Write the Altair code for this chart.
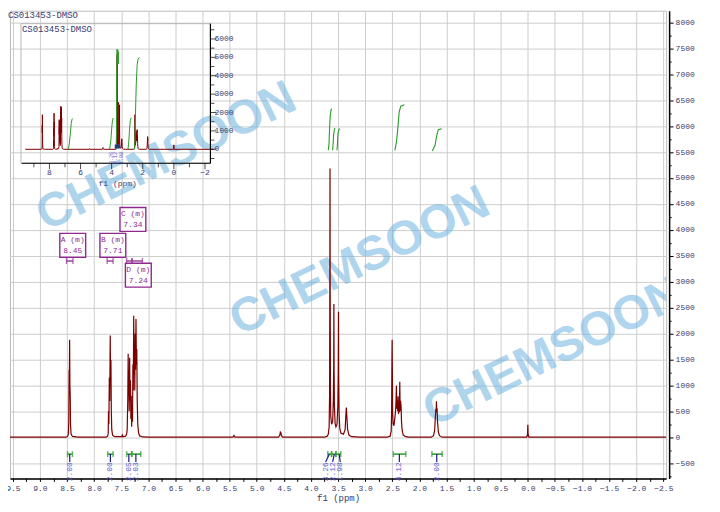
import altair as alt
import pandas as pd

# ---------------- spectrum (ppm, intensity) ----------------
spec_ppm = [9.552, 8.52, 8.49, 8.475, 8.468, 8.462, 8.458, 8.452, 8.447, 8.441, 8.436, 8.425, 8.40, 8.30,
            7.78, 7.75, 7.74, 7.735, 7.728, 7.72, 7.712, 7.703, 7.697, 7.69, 7.683, 7.675, 7.66, 7.62,
            7.49, 7.48, 7.47, 7.42, 7.40, 7.39, 7.38, 7.372, 7.366, 7.36, 7.353, 7.345, 7.338, 7.33,
            7.322, 7.315, 7.308, 7.30, 7.292, 7.285, 7.278, 7.27, 7.263, 7.256, 7.25, 7.243, 7.236,
            7.228, 7.22, 7.213, 7.205, 7.195, 7.18, 7.16, 7.10, 7.00,
            5.44, 5.42, 5.40, 4.60, 4.575, 4.565, 4.555, 4.545, 4.52,
            3.75, 3.70, 3.68, 3.665, 3.657, 3.652, 3.649, 3.646, 3.641, 3.635, 3.62, 3.60, 3.588,
            3.581, 3.578, 3.574, 3.568, 3.555, 3.54, 3.52, 3.505, 3.497, 3.493, 3.489, 3.482, 3.47,
            3.45, 3.40, 3.37, 3.358, 3.348, 3.338, 3.325, 3.30, 3.25, 3.10,
            2.60, 2.54, 2.52, 2.512, 2.507, 2.503, 2.499, 2.494, 2.485, 2.47, 2.455, 2.44, 2.432,
            2.424, 2.416, 2.408, 2.40, 2.393, 2.385, 2.377, 2.37, 2.362, 2.355, 2.348, 2.338, 2.33,
            2.32, 2.30, 2.25, 2.20,
            1.78, 1.74, 1.72, 1.705, 1.697, 1.691, 1.686, 1.68, 1.674, 1.666, 1.65, 1.63, 1.58,
            0.02, 0.005, 0.0, -0.005, -0.02, -2.551]
spec_int = [0, 0, 15, 60, 300, 1300, 900, 1880, 1000, 800, 250, 60, 15, 0,
            0, 20, 80, 500, 250, 1150, 700, 1960, 1100, 1490, 500, 150, 40, 10,
            10, 40, 10, 20, 60, 150, 700, 1610, 800, 1200, 500, 1530, 700, 1100,
            350, 800, 200, 600, 300, 1400, 900, 2340, 1200, 1800, 900, 2000, 1300,
            2280, 1400, 1700, 700, 250, 80, 25, 5, 0,
            0, 35, 0, 0, 40, 100, 90, 30, 0,
            0, 20, 60, 200, 800, 3000, 5180, 3000, 900, 400, 250, 300, 700,
            1400, 2570, 1300, 600, 260, 200, 250, 600, 1300, 2420, 1200, 500, 180,
            80, 60, 150, 400, 570, 400, 150, 40, 10, 0,
            0, 20, 120, 500, 1460, 1880, 1300, 500, 260, 220, 350, 500, 700,
            990, 550, 720, 500, 790, 450, 650, 480, 1070, 500, 700, 600, 300,
            150, 40, 10, 0,
            0, 30, 120, 400, 550, 480, 692, 520, 560, 300, 100, 30, 0,
            0, 60, 240, 60, 0, 0]

# ---------------- integral curves in the main plot ----------------
main_int_curve = [1] * 6 + [2] * 5 + [3] * 5 + [4] * 6 + [5] * 5
main_int_ppm = [3.681, 3.668, 3.657, 3.645, 3.632, 3.620,
                3.602, 3.592, 3.584, 3.571, 3.558,
                3.521, 3.512, 3.503, 3.484, 3.466,
                2.453, 2.424, 2.393, 2.374, 2.343, 2.277,
                1.761, 1.712, 1.680, 1.651, 1.588]
main_int_val = [5533, 5650, 5950, 6200, 6301, 6334,
                5533, 5650, 5821, 5917, 5962,
                5533, 5650, 5853, 5937, 5950,
                5533, 5692, 6013, 6269, 6385, 6411,
                5520, 5629, 5821, 5930, 5950]

# ---------------- integration bars (bottom) ----------------
integ_from = [8.49, 7.75, 7.40, 7.30, 3.69, 3.62, 3.54, 2.48, 1.77]
integ_to = [8.40, 7.65, 7.31, 7.14, 3.62, 3.54, 3.45, 2.25, 1.58]
integ_center = [8.45, 7.70, 7.36, 7.23, 3.66, 3.57, 3.48, 2.37, 1.68]
integ_labx = [8.45, 7.70, 7.36, 7.23, 3.73, 3.60, 3.46, 2.37, 1.68]
integ_text = ["2.00", "2.00", "2.05", "2.03", "3.26", "2.12", "1.98", "4.12", "2.00"]

# ---------------- multiplet labels ----------------
mult_names = ["A", "B", "C", "D"]
mult_shift = [8.45, 7.71, 7.34, 7.24]
mult_level = [3700, 3700, 4200, 3125]
mult_from = [8.51, 7.76, 7.40, 7.30]
mult_to = [8.39, 7.65, 7.30, 7.11]

# ---------------- inset ----------------
inset_int_curve = [1] * 6 + [2] * 5 + [3] * 8 + [4] * 5 + [5] * 6
inset_int_ppm = [6.79, 6.72, 6.65, 6.60, 6.55, 6.50,
                 4.13, 4.05, 4.00, 3.95, 3.90,
                 3.72, 3.69, 3.67, 3.65, 3.63, 3.60, 3.57, 3.55,
                 2.95, 2.90, 2.85, 2.80, 2.75,
                 2.52, 2.48, 2.42, 2.36, 2.30, 2.22]
inset_int_val = [0, 300, 900, 1400, 1620, 1680,
                 0, 500, 1100, 1550, 1700,
                 0, 800, 4600, 5450, 4700, 5400, 4650, 5300,
                 0, 400, 1100, 1550, 1720,
                 0, 1500, 3500, 4600, 4900, 5000]
inset_xticks = [8, 6, 4, 2, 0, -2]
inset_xminor = [9, 7, 5, 3, 1, -1]
inset_yticks = [0, 1000, 2000, 3000, 4000, 5000, 6000]
inset_yminor = [-500, 500, 1500, 2500, 3500, 4500, 5500, 6500]
inset_lab_ppm = [4.05, 3.80, 3.40]
inset_lab_text = ["3.26", "2.12", "1.98"]

title_text = "CS013453-DMSO"
x_major = [9.5, 9.0, 8.5, 8.0, 7.5, 7.0, 6.5, 6.0, 5.5, 5.0, 4.5, 4.0, 3.5, 3.0, 2.5, 2.0,
           1.5, 1.0, 0.5, 0.0, -0.5, -1.0, -1.5, -2.0, -2.5]
y_major = [-500, 0, 500, 1000, 1500, 2000, 2500, 3000, 3500, 4000, 4500, 5000, 5500, 6000,
           6500, 7000, 7500, 8000]

# ---------------- styles ----------------
FONT = "Liberation Mono"
AX_COL = "#3a3a6e"
RED = "#7b0000"
GREEN = "#2a9a2a"
BLUE = "#1a1a8a"
LBLUE = "#5a5ad0"
PURPLE = "#8e2a8e"
GRID = "#cdcdcd"

W, H = 658, 469
xs = alt.Scale(domain=[9.552, -2.551], nice=False, zero=False)
ys = alt.Scale(domain=[-794, 8225], nice=False, zero=False)
ixs = alt.Scale(domain=[9.83, -2.35], range=[11, 201], nice=False, zero=False)
iys = alt.Scale(domain=[-760, 6830], range=[153, 13], nice=False, zero=False)

x_vals = sorted(set(x_major + [round(v - 0.25, 2) for v in x_major[:-1]]), reverse=True)
y_vals = sorted(set(y_major + [v + 250 for v in y_major[:-1]] + [-750]))

maj_x = "abs(datum.value*2 - round(datum.value*2)) < 0.001"
maj_y = "datum.value % 500 === 0"

x_axis = alt.Axis(values=x_vals, title="f1 (ppm)",
                  labelExpr=f"({maj_x}) ? format(datum.value, '.1f') : ''",
                  grid=True, gridColor=GRID,
                  gridOpacity={"condition": {"test": maj_x, "value": 1}, "value": 0},
                  tickSize=3, tickColor="black", domainColor="black", domainWidth=1.5,
                  labelFont=FONT, labelFontSize=8, labelColor=AX_COL, labelFlush=False,
                  labelOverlap=False, labelPadding=3, titleFont=FONT, titleFontSize=9,
                  titleFontWeight="normal", titleColor=AX_COL, titlePadding=1)
y_axis = alt.Axis(values=y_vals, title=None, orient="right", offset=3,
                  labelExpr=f"({maj_y}) ? format(datum.value, 'd') : ''",
                  grid=True, gridColor=GRID,
                  gridOpacity={"condition": {"test": maj_y, "value": 1}, "value": 0},
                  tickSize={"condition": {"test": maj_y, "value": 4}, "value": 2},
                  tickColor="black", domainColor="black", domainWidth=1.5,
                  labelFont=FONT, labelFontSize=8, labelColor=AX_COL, labelPadding=2)

spec_df = pd.DataFrame({"ppm": spec_ppm, "i": spec_int})
mint_df = pd.DataFrame({"c": main_int_curve, "ppm": main_int_ppm, "v": main_int_val})
integ_df = pd.DataFrame({"f": integ_from, "t": integ_to, "c": integ_center,
                         "lx": integ_labx, "txt": integ_text})
caps_df = pd.DataFrame({"ppm": integ_from + integ_to})
mult_df = pd.DataFrame({"shift": mult_shift, "level": mult_level,
                        "name": [n + " (m)" for n in mult_names],
                        "s": [f"{v:.2f}" for v in mult_shift],
                        "f": mult_from, "t": mult_to})
mcaps_df = pd.DataFrame({"ppm": mult_from + mult_to})


def X(field, scale=xs):
    return alt.X(field, scale=scale, axis=None)


def Y(field, scale=ys):
    return alt.Y(field, scale=scale, axis=None)


# watermark
wm_x = [157, 351, 545]
wm_y = [147, 252, 343]
wm_layers = [
    alt.Chart(pd.DataFrame({"t": ["CHEMSOON"]})).mark_text(
        font="Liberation Sans", fontWeight="bold", fontSize=48, angle=334,
        color="#6fb3e0", opacity=0.55, clip=True
    ).encode(text="t:N", x=alt.value(px), y=alt.value(py))
    for px, py in zip(wm_x, wm_y)
]

spec = alt.Chart(spec_df).mark_line(color=RED, strokeWidth=1.2).encode(
    x=alt.X("ppm:Q", scale=xs, axis=x_axis),
    y=alt.Y("i:Q", scale=ys, axis=y_axis))

mint = alt.Chart(mint_df).mark_line(color=GREEN, strokeWidth=1.1).encode(
    x=X("ppm:Q"), y=Y("v:Q"), detail="c:N")

ybar = alt.YDatum(-326, scale=ys, axis=None)
bars = alt.Chart(integ_df).mark_rule(color=GREEN, strokeWidth=1.5).encode(
    x=X("f:Q"), x2="t:Q", y=ybar)
caps = alt.Chart(caps_df).mark_tick(orient="vertical", size=6, thickness=1.5, color=GREEN).encode(
    x=X("ppm:Q"), y=ybar)
conn = alt.Chart(integ_df).mark_rule(color=BLUE, strokeWidth=1.2).encode(
    x=X("c:Q"), x2="lx:Q", y=ybar, y2=alt.Y2Datum(-478))
ilab = alt.Chart(integ_df).mark_text(angle=270, align="right", baseline="middle",
                                     font=FONT, fontSize=8, color=LBLUE).encode(
    x=X("lx:Q"), y=alt.YDatum(-482, scale=ys, axis=None), text="txt:N")

ymb = alt.YDatum(3398, scale=ys, axis=None)
mbar = alt.Chart(mult_df).mark_rule(color=PURPLE, strokeWidth=1.3).encode(
    x=X("f:Q"), x2="t:Q", y=ymb)
mcaps = alt.Chart(mcaps_df).mark_tick(orient="vertical", size=6, thickness=1.3, color=PURPLE).encode(
    x=X("ppm:Q"), y=ymb)
boxes = alt.Chart(mult_df).mark_point(
    shape="M-1.08,-1L1.08,-1L1.08,1L-1.08,1Z", size=576, filled=True, fill="white",
    stroke=PURPLE, strokeWidth=1.4, opacity=1, xOffset=3
).encode(x=X("shift:Q"), y=Y("level:Q"))
mname = alt.Chart(mult_df).mark_text(font=FONT, fontSize=8, color=PURPLE, xOffset=3, yOffset=-5).encode(
    x=X("shift:Q"), y=Y("level:Q"), text="name:N")
mshift = alt.Chart(mult_df).mark_text(font=FONT, fontSize=8, color=PURPLE, xOffset=3, yOffset=6).encode(
    x=X("shift:Q"), y=Y("level:Q"), text="s:N")

outer_title = alt.Chart(pd.DataFrame({"t": [title_text]})).mark_text(
    font=FONT, fontSize=9, color=AX_COL, align="left", baseline="middle"
).encode(text="t:N", x=alt.value(-2), y=alt.value(4))

# ---------------- inset ----------------
iint_df = pd.DataFrame({"c": inset_int_curve, "ppm": inset_int_ppm, "v": inset_int_val})
ixt_df = pd.DataFrame({"ppm": inset_xticks})
ixm_df = pd.DataFrame({"ppm": inset_xminor})
iyt_df = pd.DataFrame({"v": inset_yticks})
iym_df = pd.DataFrame({"v": inset_yminor})
ilab_df = pd.DataFrame({"ppm": inset_lab_ppm, "t": inset_lab_text})
one = pd.DataFrame({"a": [0]})

iy0 = alt.YDatum(-760, scale=iys, axis=None)
ixr = alt.XDatum(-2.35, scale=ixs, axis=None)

i_frame = alt.Chart(one).mark_rect(fill="white", fillOpacity=0, stroke="#b8b8b8", strokeWidth=1).encode(
    x=alt.XDatum(9.83, scale=ixs, axis=None), x2=alt.X2Datum(-2.35),
    y=alt.YDatum(-760, scale=iys, axis=None), y2=alt.Y2Datum(6830))
i_spec = alt.Chart(spec_df).mark_line(color=RED, strokeWidth=1).encode(
    x=X("ppm:Q", ixs), y=Y("i:Q", iys))
i_int = alt.Chart(iint_df).mark_line(color=GREEN, strokeWidth=1).encode(
    x=X("ppm:Q", ixs), y=Y("v:Q", iys), detail="c:N")
i_xaxis = alt.Chart(one).mark_rule(color="black", strokeWidth=1.2).encode(
    x=alt.XDatum(9.78, scale=ixs, axis=None), x2=alt.X2Datum(-2.35), y=iy0)
i_yaxis = alt.Chart(one).mark_rule(color="black", strokeWidth=1.2).encode(
    x=ixr, y=iy0, y2=alt.Y2Datum(6830))
i_xt = alt.Chart(ixt_df).mark_tick(orient="vertical", size=6, thickness=1, color="black", yOffset=3).encode(
    x=X("ppm:Q", ixs), y=iy0)
i_xm = alt.Chart(ixm_df).mark_tick(orient="vertical", size=4, thickness=1, color="black", yOffset=2).encode(
    x=X("ppm:Q", ixs), y=iy0)
i_xl = alt.Chart(ixt_df).mark_text(font=FONT, fontSize=8, color=AX_COL, dy=10).encode(
    x=X("ppm:Q", ixs), y=iy0, text=alt.Text("ppm:Q", format="d"))
i_yt = alt.Chart(iyt_df).mark_tick(orient="horizontal", size=6, thickness=1, color="black", xOffset=3).encode(
    x=ixr, y=Y("v:Q", iys))
i_ym = alt.Chart(iym_df).mark_tick(orient="horizontal", size=4, thickness=1, color="black", xOffset=2).encode(
    x=ixr, y=Y("v:Q", iys))
i_yl = alt.Chart(iyt_df).mark_text(font=FONT, fontSize=8, color=AX_COL, align="left", dx=4).encode(
    x=ixr, y=Y("v:Q", iys), text=alt.Text("v:Q", format="d"))
i_lab = alt.Chart(ilab_df).mark_text(font=FONT, fontSize=5, color=LBLUE, angle=270,
                                     align="right", baseline="middle").encode(
    x=X("ppm:Q", ixs), y=alt.YDatum(-150, scale=iys, axis=None), text="t:N")
i_blob = alt.Chart(one).mark_rule(color="#1d3f7a", strokeWidth=4).encode(
    x=alt.XDatum(3.80, scale=ixs, axis=None), x2=alt.X2Datum(3.45),
    y=alt.YDatum(150, scale=iys, axis=None))
i_title = alt.Chart(pd.DataFrame({"t": [title_text]})).mark_text(
    font=FONT, fontSize=9, color=AX_COL, align="left", baseline="middle"
).encode(text="t:N", x=alt.value(12), y=alt.value(18))
i_xtitle = alt.Chart(pd.DataFrame({"t": ["f1 (ppm)"]})).mark_text(
    font=FONT, fontSize=8, color=AX_COL, baseline="middle"
).encode(text="t:N", x=alt.value(108), y=alt.value(174))

# every layer carries its own explicit scale, so independent resolution keeps
# the main plot and the inset on their own coordinate systems
chart = alt.layer(
    *wm_layers, spec, mint, bars, caps, conn, ilab, mbar, mcaps, boxes, mname, mshift, outer_title,
    i_frame, i_spec, i_int, i_blob, i_xaxis, i_yaxis, i_xt, i_xm, i_xl,
    i_yt, i_ym, i_yl, i_lab, i_title, i_xtitle
).resolve_scale(
    x="independent", y="independent"
).properties(
    width=W, height=H,
    autosize=alt.AutoSizeParams(type="none"),
    padding={"left": 2, "top": 2, "right": 46, "bottom": 34},
    background="white"
).configure_view(stroke="#bdbdbd", strokeWidth=1)

chart.save("out.html", embed_options={"renderer": "svg", "actions": False})
